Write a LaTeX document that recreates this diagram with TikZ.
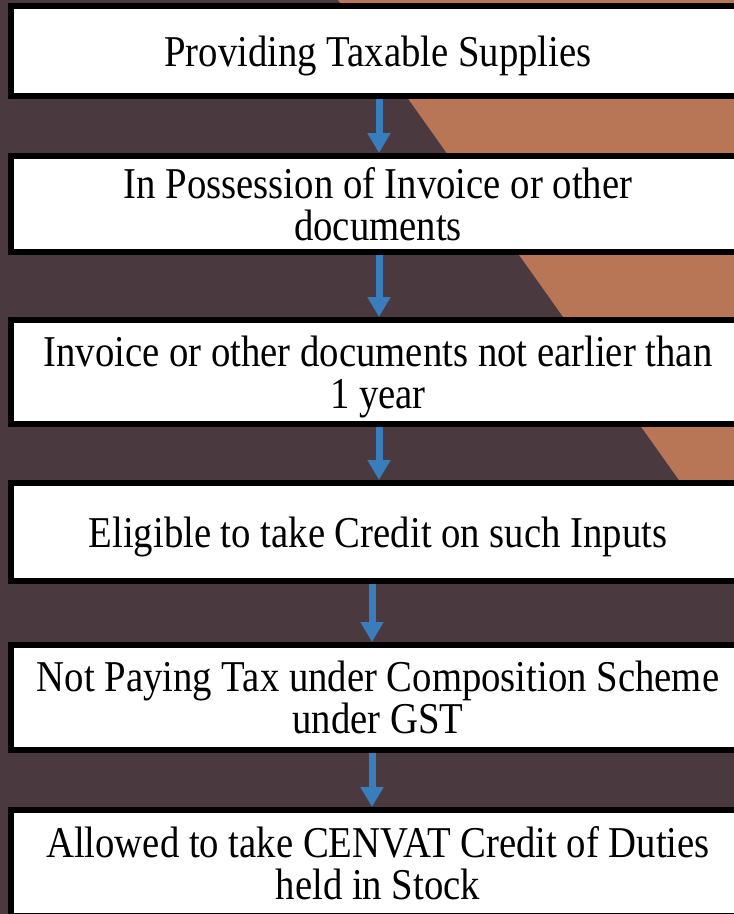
\documentclass[tikz,border=0pt]{standalone}
\usepackage{fontspec}
\setmainfont{Liberation Serif}[FakeStretch=0.88]
\usetikzlibrary{arrows.meta,shapes}
\definecolor{wooddark}{RGB}{74,58,64}
\definecolor{woodlight}{RGB}{184,118,86}
\definecolor{arrowblue}{RGB}{58,125,189}
\tikzstyle{stepbox}=[rectangle,draw=black,line width=6pt,fill=white,minimum width=734pt,align=center,inner sep=0pt,text depth=0pt,font=\fontsize{44}{42}\selectfont]
\tikzstyle{edge}=[draw,line width=7pt,arrowblue,-{Triangle[width=22pt,length=20pt]}]

\begin{document}
\begin{tikzpicture}[x=1pt,y=-1pt]

    \useasboundingbox (0,0) rectangle (734,914);
    \clip (0,0) rectangle (734,914);

    % wood background
    \fill[wooddark] (0,0) rectangle (734,914);
    \fill[woodlight] (338,0) -- (750,580) -- (750,0) -- cycle;

    \foreach \y/\h/\name/\txt in {51/90/b1/{Providing Taxable Supplies},
        204/96/b2/{In Possession of Invoice or other\\documents},
        372/104/b3/{Invoice or other documents not earlier than\\1 year},
        532/98/b4/{Eligible to take Credit on such Inputs},
        697.5/105/b5/{Not Paying Tax under Composition Scheme\\under GST},
        863/106/b6/{Allowed to take CENVAT Credit of Duties\\held in Stock}}
        \node[stepbox, minimum height=\h pt] (\name) at (378,\y) {\txt};

    \foreach \source/\dest/\dx in {b1/b2/1, b2/b3/1, b3/b4/1, b4/b5/-6, b5/b6/-6}
        \path[edge] ([xshift=\dx pt]\source.south) -- ([xshift=\dx pt]\dest.north);

\end{tikzpicture}
\end{document}
